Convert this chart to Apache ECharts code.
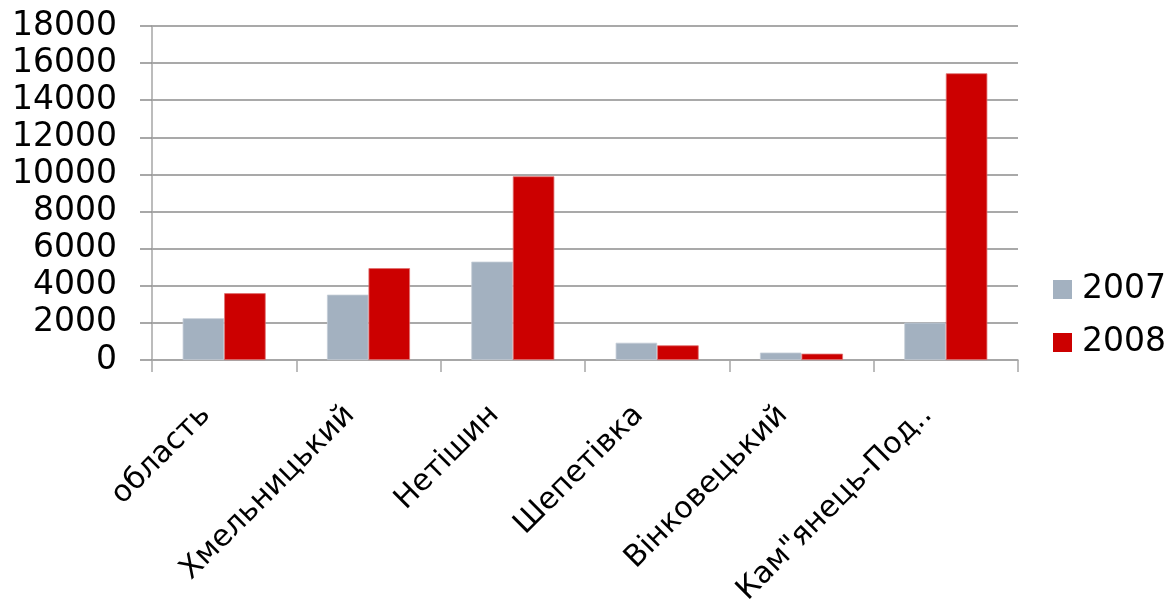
<!DOCTYPE html>
<html><head><meta charset="utf-8">
<script src="https://cdn.jsdelivr.net/npm/echarts@6/dist/echarts.min.js"></script>
<style>html,body{margin:0;padding:0;background:#fff}#c{width:1173px;height:605px}</style>
</head><body><div id="c"></div>
<script>
var categories = ['область', 'Хмельницький', 'Нетішин', 'Шепетівка', 'Вінковецький', 'Кам"янець-Под..'];
var seriesNames = ['2007', '2008'];
var values2007 = [2250, 3520, 5300, 930, 400, 2010];
var values2008 = [3600, 4950, 9900, 790, 340, 15450];
var yTicks = {min: 0, max: 18000, interval: 2000};

var chart = echarts.init(document.getElementById('c'), null, {renderer: 'canvas'});
var font = 'DejaVu Sans, Verdana, sans-serif';
chart.setOption({
  animation: false,
  grid: {left: 152, right: 155, top: 26, bottom: 245, containLabel: false, outerBoundsMode: 'none'},
  legend: {
    orient: 'vertical', left: 1053, top: 273, padding: 0,
    itemWidth: 19, itemHeight: 19, itemGap: 20,
    icon: 'rect',
    itemStyle: {borderWidth: 0},
    textStyle: {fontFamily: font, fontSize: 33, color: '#000', padding: [0, 0, 0, 5]},
    data: seriesNames
  },
  xAxis: {
    type: 'category', data: categories,
    axisLine: {lineStyle: {color: '#a6a6a6', width: 1.5}},
    axisTick: {show: true, length: 12, lineStyle: {color: '#a6a6a6', width: 1.5}},
    axisLabel: {rotate: 45, fontFamily: font, fontSize: 30, color: '#000', margin: 32, interval: 0,
                padding: [0, 26, 0, 0]}
  },
  yAxis: {
    type: 'value', min: yTicks.min, max: yTicks.max, interval: yTicks.interval,
    axisLine: {show: true, lineStyle: {color: '#a6a6a6', width: 1.5}},
    axisTick: {show: true, length: 12, lineStyle: {color: '#8c8c8c', width: 1.5}},
    splitLine: {lineStyle: {color: '#8c8c8c', width: 1.5}},
    axisLabel: {fontFamily: font, fontSize: 33, color: '#000', margin: 35,
                formatter: function (v) { return String(v); }}
  },
  series: [
    {name: seriesNames[0], type: 'bar', data: values2007, barWidth: 41.5, barGap: '0%',
     itemStyle: {color: '#a3b1c0', borderColor: '#c3ccd6', borderWidth: 0.8}},
    {name: seriesNames[1], type: 'bar', data: values2008, barWidth: 41.5, barGap: '0%',
     itemStyle: {color: '#cc0000', borderColor: '#e07070', borderWidth: 0.8}}
  ]
});
</script></body></html>
